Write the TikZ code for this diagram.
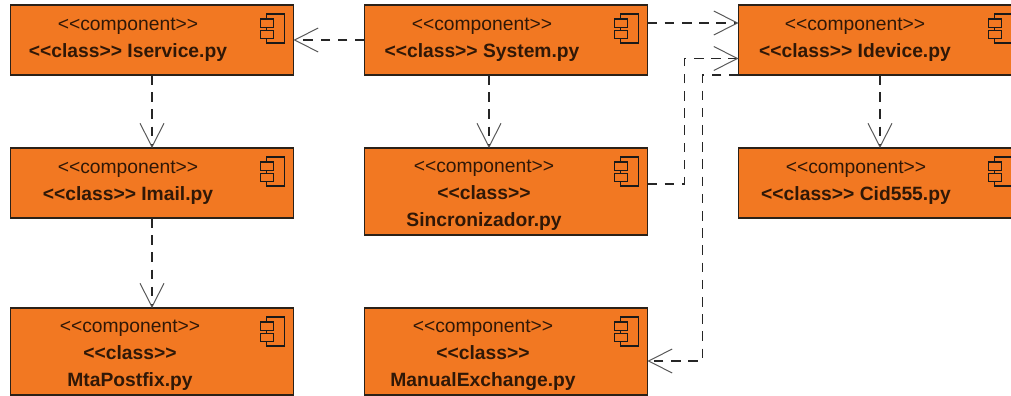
\documentclass[tikz,border=0pt]{standalone}
\usepackage{fontspec}
\setmainfont{Liberation Sans}
\usetikzlibrary{calc, arrows.meta}
\definecolor{CompFill}{HTML}{F27822}
\definecolor{CompLine}{HTML}{2B2118}
\newcommand{\stereo}[1]{<{}<#1>{}>}
\tikzset{
    compbox/.style={
        draw=CompLine, fill=CompFill, line width=0.4mm, outer sep=0pt,
        minimum width=70.75mm, minimum height=17.5mm
    },
    compbox tall/.style={compbox, minimum height=21.75mm},
    comptext/.style={
        anchor=north, align=center, inner sep=0pt, text=black!80!CompFill,
        font=\fontsize{13.7}{19.2}\selectfont
    },
    compicon/.style={draw=black!90, fill=CompFill, line width=0.28mm},
    dep/.style={
        draw=black!85, line width=0.33mm, dash pattern=on 2.4mm off 1.9mm,
        -{Straight Barb[length=5.9mm, width=6mm, line width=0.25mm, black!65]}
    }
}

\begin{document}
\begin{tikzpicture}[x=0.25mm, y=-0.25mm]

\useasboundingbox (0,0) rectangle (1011,396);
\clip (0,0) rectangle (1011,396);

% Cajas de los componentes.
\node[compbox] (iservice) at (152,40) {};
\node[compbox] (system) at (506,40) {};
\node[compbox] (idevice) at (880,40) {};
\node[compbox] (imail) at (152,183) {};
\node[compbox tall] (sincronizador) at (506,191.5) {};
\node[compbox] (cid) at (880,183) {};
\node[compbox tall] (mtapostfix) at (152,351.5) {};
\node[compbox tall] (manualexchange) at (506,351.5) {};

% Textos de cada caja.
\node[comptext] (iservicetext) at ($(iservice.north)+(-24,13)$) {\stereo{component}\\\textbf{\stereo{class} Iservice.py}};
\node[comptext] (systemtext) at ($(system.north)+(-24,13)$) {\stereo{component}\\\textbf{\stereo{class} System.py}};
\node[comptext] (idevicetext) at ($(idevice.north)+(-25,13)$) {\stereo{component}\\\textbf{\stereo{class} Idevice.py}};
\node[comptext] (imailtext) at ($(imail.north)+(-24,13)$) {\stereo{component}\\\textbf{\stereo{class} Imail.py}};
\node[comptext] (sincronizadortext) at ($(sincronizador.north)+(-22,12)$) {\stereo{component}\\\textbf{\stereo{class}}\\\textbf{Sincronizador.py}};
\node[comptext] (cidtext) at ($(cid.north)+(-24,13)$) {\stereo{component}\\\textbf{\stereo{class} Cid555.py}};
\node[comptext] (mtapostfixtext) at ($(mtapostfix.north)+(-22,12)$) {\stereo{component}\\\textbf{\stereo{class}}\\\textbf{MtaPostfix.py}};
\node[comptext] (manualexchangetext) at ($(manualexchange.north)+(-23,12)$) {\stereo{component}\\\textbf{\stereo{class}}\\\textbf{ManualExchange.py}};

% Icono de componente en la esquina de cada caja.
\foreach \name in {iservice, system, idevice, imail, sincronizador, cid, mtapostfix, manualexchange} {
    \draw[compicon] ($(\name.north east)+(-27,9)$) rectangle ($(\name.north east)+(-9,38)$);
    \draw[compicon] ($(\name.north east)+(-33,14)$) rectangle ($(\name.north east)+(-20,22.5)$);
    \draw[compicon] ($(\name.north east)+(-33,25.5)$) rectangle ($(\name.north east)+(-20,33.5)$);
}

% Dependencias entre componentes.
\draw[dep] (system.west) -- (iservice.east);
\draw[dep] (iservice.south) -- (imail.north);
\draw[dep] (imail.south) -- (mtapostfix.north);
\draw[dep] ($(system.south)+(-17,0)$) -- ($(sincronizador.north)+(-17,0)$);
\draw[dep] ($(system.east)+(0,-17)$) -- ($(idevice.west)+(0,-17)$);
\draw[dep] (idevice.south) -- (cid.north);
\draw[dep] ($(sincronizador.east)+(0,-7.5)$) -- ++(37,0) |- ($(idevice.west)+(0,18.5)$);
\draw[dep] (idevice.south west) -- ++(-36,0) |- ($(manualexchange.east)+(0,9.5)$);

\end{tikzpicture}
\end{document}
